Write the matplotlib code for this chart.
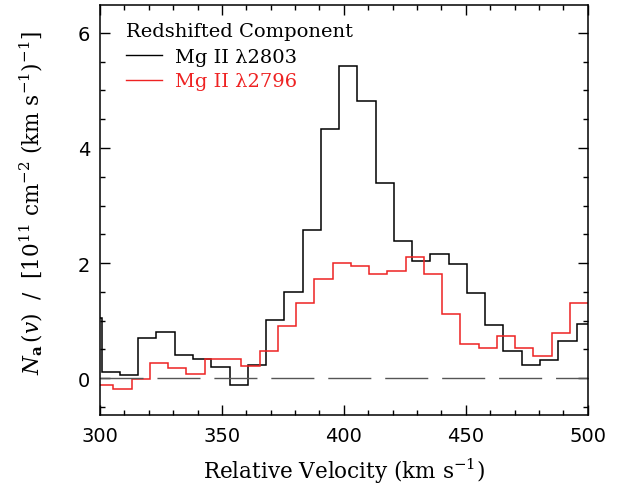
import numpy as np
import matplotlib
matplotlib.use("Agg")
import matplotlib.pyplot as plt
from matplotlib.lines import Line2D

plt.rcParams['font.family'] = ['DejaVu Serif']
plt.rcParams['mathtext.fontset'] = 'dejavuserif'

# Apparent column density per velocity bin (10^11 cm^-2 (km/s)^-1)
bin_width = 7.49
mg2803_start = 293.2
mg2803 = [1.05, 0.11, 0.06, 0.70, 0.81, 0.41, 0.34, 0.19, -0.12, 0.23,
          1.01, 1.49, 2.57, 4.33, 5.43, 4.81, 3.39, 2.39, 2.04, 2.16,
          1.99, 1.48, 0.93, 0.48, 0.23, 0.31, 0.65, 0.95]
mg2796_start = 298.0
mg2796 = [-0.12, -0.19, -0.01, 0.27, 0.17, 0.08, 0.34, 0.34, 0.21, 0.48,
          0.91, 1.30, 1.72, 2.01, 1.95, 1.81, 1.87, 2.11, 1.81, 1.12,
          0.60, 0.52, 0.74, 0.52, 0.38, 0.78, 1.30]

edges_2803 = mg2803_start + bin_width * np.arange(len(mg2803) + 1)
edges_2796 = mg2796_start + bin_width * np.arange(len(mg2796) + 1)

red = '#ee2222'

fig = plt.figure(figsize=(6.36, 4.89), dpi=100)
ax = fig.add_axes([100 / 636, 1 - 416 / 489, 487.7 / 636, 410.3 / 489])

ax.plot([300, 500], [0, 0], color='#555555', lw=1.0, dashes=(31, 10))
ax.stairs(mg2803, edges_2803, baseline=None, color='black', lw=1.1)
ax.stairs(mg2796, edges_2796, baseline=None, color=red, lw=1.1)

ax.set_xlim(300, 500)
ax.set_ylim(-0.64, 6.49)
ax.set_xticks([300, 350, 400, 450, 500])
ax.set_xticks(np.arange(300, 501, 10), minor=True)
ax.set_yticks([0, 2, 4, 6])
ax.set_yticks(np.arange(-0.5, 6.5, 0.5), minor=True)
ax.tick_params(which='both', direction='in', top=True, right=True,
               labelsize=14, width=1.0)
ax.tick_params(which='major', length=7)
ax.tick_params(which='minor', length=3.6)
ax.tick_params(axis='x', pad=8)
ax.tick_params(axis='y', pad=7)
for lbl in ax.get_xticklabels() + ax.get_yticklabels():
    lbl.set_family('DejaVu Sans')
for s in ax.spines.values():
    s.set_linewidth(1.1)

ax.set_xlabel('Relative Velocity (km s$^{-1}$)', fontsize=15.5)
ax.set_ylabel(r'$N_{\mathbf{a}}\,(v)$  /  [10$^{11}$ cm$^{-2}$ (km s$^{-1}$)$^{-1}$]',
              fontsize=15.5)
ax.xaxis.set_label_coords(0.5, -0.1)
ax.yaxis.set_label_coords(-0.113, 0.52)

# legend title drawn as plain text, entries below it
ax.text(0.053, 0.936, 'Redshifted Component', transform=ax.transAxes,
        fontsize=14, ha='left', va='center')
handles = [Line2D([], [], color='black', lw=1.0),
           Line2D([], [], color=red, lw=1.0)]
leg = ax.legend(handles, ['Mg II \u03bb2803', 'Mg II \u03bb2796'],
                loc='upper left', bbox_to_anchor=(0.053, 0.894),
                frameon=False, fontsize=14,
                handlelength=1.85, handletextpad=0.67, labelspacing=0.32,
                borderaxespad=0, borderpad=0,
                labelcolor=['black', red])

fig.savefig('out.png', dpi=100)
